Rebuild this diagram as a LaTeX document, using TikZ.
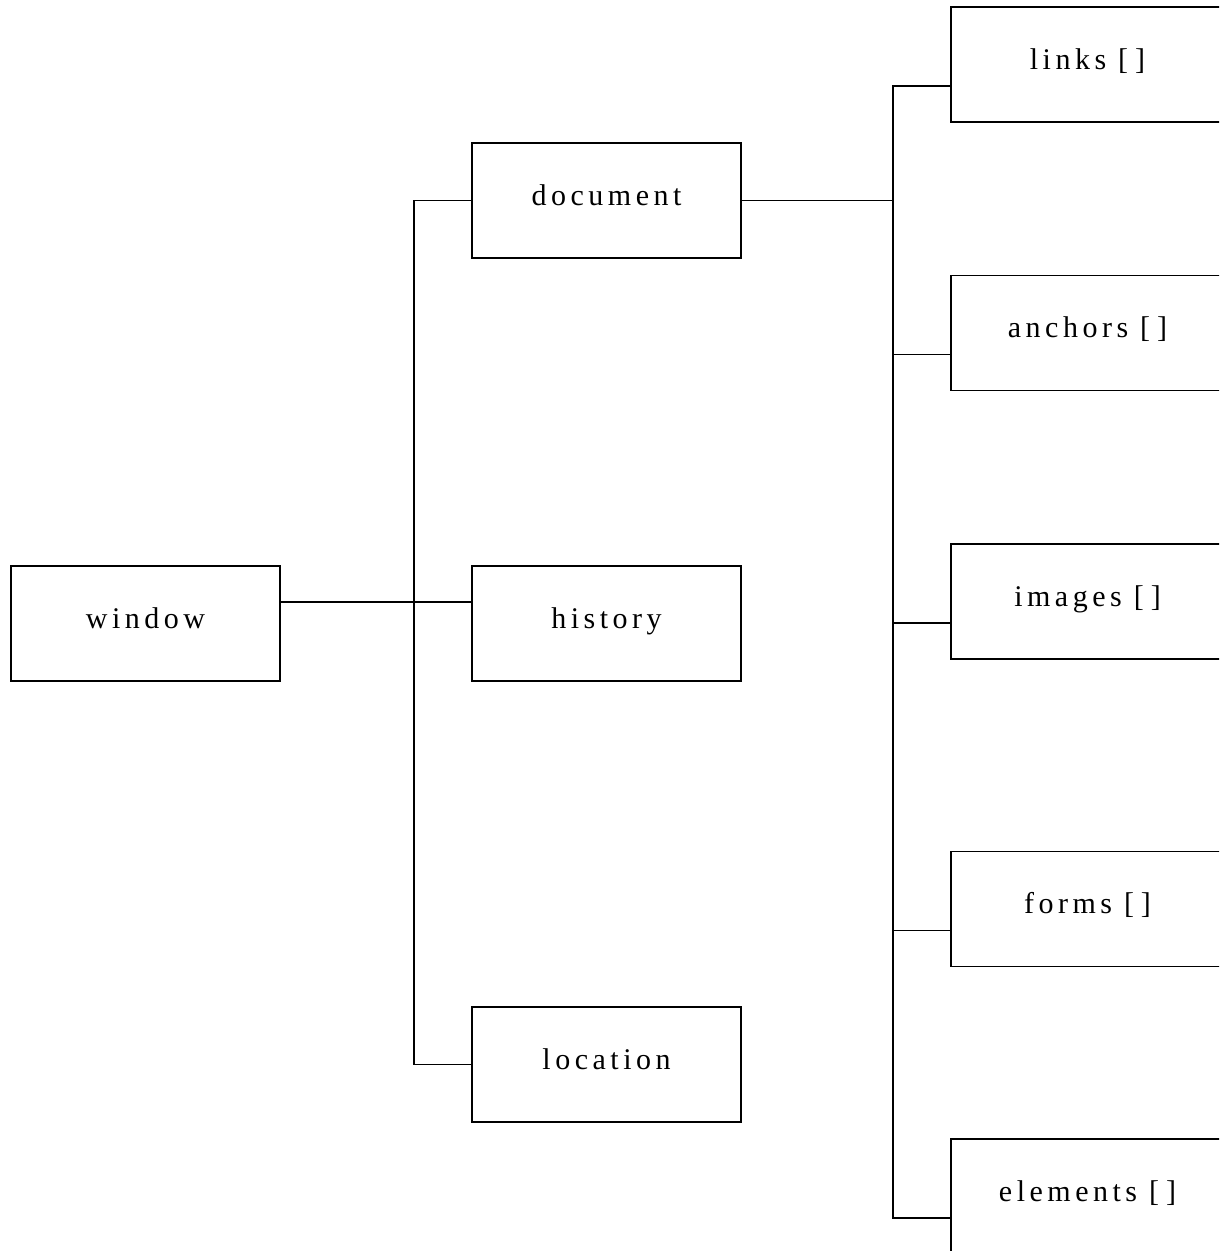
\documentclass[tikz,border=0pt]{standalone}
\usepackage{fontspec}
\setmainfont{Liberation Serif}[LetterSpace=15]
\begin{document}
\begin{tikzpicture}[x=1pt,y=-1pt,
  box/.style={draw, line width=1.5pt, minimum width=269pt, minimum height=115pt,
    inner sep=0pt, text height=9pt, text depth=0pt, font=\fontsize{30}{30}\selectfont},
  rbox/.style={box, minimum width=273pt},
  conn/.style={line width=1.5pt}]
\useasboundingbox (0,0) rectangle (1219,1251);
\clip (0,0) rectangle (1219,1251);
\node[box] (window)   at (145.5,623.5) {window};
\node[box] (document) at (606.5,200.5) {document};
\node[box] (history)  at (606.5,623.5) {history};
\node[box] (location) at (606.5,1064.5) {location};
\node[rbox] (links)    at (1087.5,64.5) {links [\kern7pt]};
\node[rbox] (anchors)  at (1087.5,333) {anchors [\kern7pt]};
\node[rbox] (images)   at (1087.5,601.5) {images [\kern7pt]};
\node[rbox] (forms)    at (1087.5,909) {forms [\kern7pt]};
\node[rbox] (elements) at (1087.5,1196.5) {elements [\kern7pt]};
\coordinate (ls) at (414,0);
\coordinate (rs) at (893,0);
% left tree
\draw[conn] ([yshift=21.5pt]window.east) -- ([yshift=21.5pt]history.west);
\draw[conn] (document.west) -- (document.west -| ls) |- (location.west);
% right tree
\draw[conn] (document.east) -- (document.east -| rs);
\draw[conn] ([yshift=-21.5pt]links.west) -- ([yshift=-21.5pt]links.west -| rs)
  |- ([yshift=-21.5pt]elements.west);
\draw[conn] ([yshift=-21.5pt]anchors.west) -- ([yshift=-21.5pt]anchors.west -| rs);
\draw[conn] ([yshift=-21.5pt]images.west) -- ([yshift=-21.5pt]images.west -| rs);
\draw[conn] ([yshift=-21.5pt]forms.west) -- ([yshift=-21.5pt]forms.west -| rs);
\end{tikzpicture}
\end{document}
